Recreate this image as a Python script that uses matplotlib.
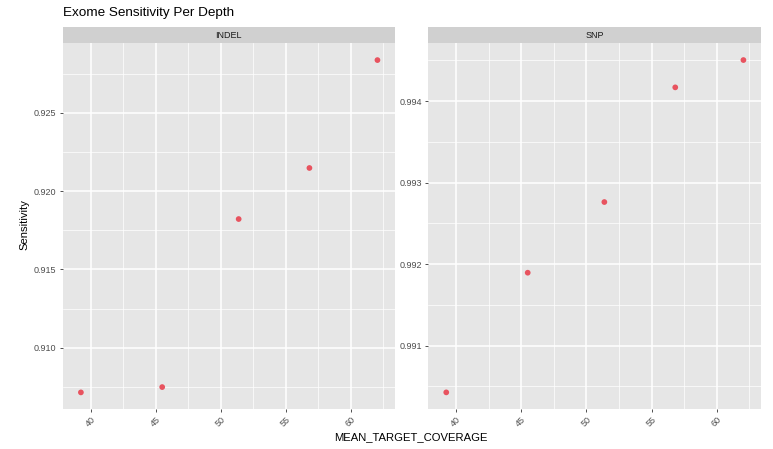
import matplotlib
matplotlib.use('Agg')
import matplotlib.pyplot as plt
from matplotlib.ticker import MultipleLocator, FormatStrFormatter

coverage = [39.25, 45.5, 51.38, 56.82, 62.05]
indel_sens = [0.90715, 0.90749, 0.91822, 0.92148, 0.92837]
snp_sens = [0.990428, 0.991896, 0.992763, 0.994170, 0.994505]
panels = ['INDEL', 'SNP']

plt.rcParams['font.family'] = ['Liberation Sans', 'DejaVu Sans']

PANEL_BG = '#E6E6E6'
STRIP_BG = '#D0D0D0'
POINT = '#E8535F'
TEXT = '#4D4D4D'


def style_panel(ax, ymajor, fmt):
  ax.set_facecolor(PANEL_BG)
  for s in ax.spines.values():
    s.set_visible(False)
  ax.set_xlim(37.85, 63.4)
  ax.xaxis.set_major_locator(MultipleLocator(5))
  ax.xaxis.set_minor_locator(MultipleLocator(2.5))
  ax.yaxis.set_major_locator(MultipleLocator(ymajor))
  ax.yaxis.set_minor_locator(MultipleLocator(ymajor / 2))
  ax.yaxis.set_major_formatter(FormatStrFormatter(fmt))
  ax.grid(which='major', color='white', linewidth=1.1)
  ax.grid(which='minor', color='white', linewidth=0.5)
  ax.set_axisbelow(True)
  ax.tick_params(which='major', length=2.5, width=0.6, color='#333333',
                 labelsize=6.5, labelcolor=TEXT, pad=2)
  ax.tick_params(which='minor', length=0)
  for lab in ax.get_xticklabels():
    lab.set_rotation(45)
    lab.set_ha('right')
    lab.set_rotation_mode('anchor')


fig = plt.figure(figsize=(7.73, 4.49), dpi=100)
ax1 = fig.add_axes([0.0811, 0.0891, 0.4299, 0.8151])
ax2 = fig.add_axes([0.5537, 0.0891, 0.4308, 0.8151])

ax1.scatter(coverage, indel_sens, s=17, color=POINT, edgecolors='none', zorder=3)
ax2.scatter(coverage, snp_sens, s=17, color=POINT, edgecolors='none', zorder=3)
ax1.set_ylim(0.90609, 0.92946)
ax2.set_ylim(0.990224, 0.994714)

style_panel(ax1, 0.005, '%.3f')
style_panel(ax2, 0.001, '%.3f')

# facet strips
for ax, name in zip((ax1, ax2), panels):
  pos = ax.get_position()
  fig.patches.append(plt.Rectangle((pos.x0, pos.y1), pos.width, 16 / 449,
                                   transform=fig.transFigure, facecolor=STRIP_BG,
                                   edgecolor='none'))
  fig.text(pos.x0 + pos.width / 2, 1 - 35 / 449, name, ha='center', va='center',
           fontsize=6.5, color='#1A1A1A')

fig.text(63 / 773, 1 - 13 / 449, 'Exome Sensitivity Per Depth', ha='left', va='center',
         fontsize=9.7, color='black')
fig.text(411 / 773, 1 - 437 / 449, 'MEAN_TARGET_COVERAGE', ha='center', va='center',
         fontsize=8.1, color='black')
fig.text(24 / 773, 1 - 225 / 449, 'Sensitivity', ha='center', va='center',
         rotation=90, fontsize=8.1, color='black')

fig.savefig('out.png', dpi=100)
